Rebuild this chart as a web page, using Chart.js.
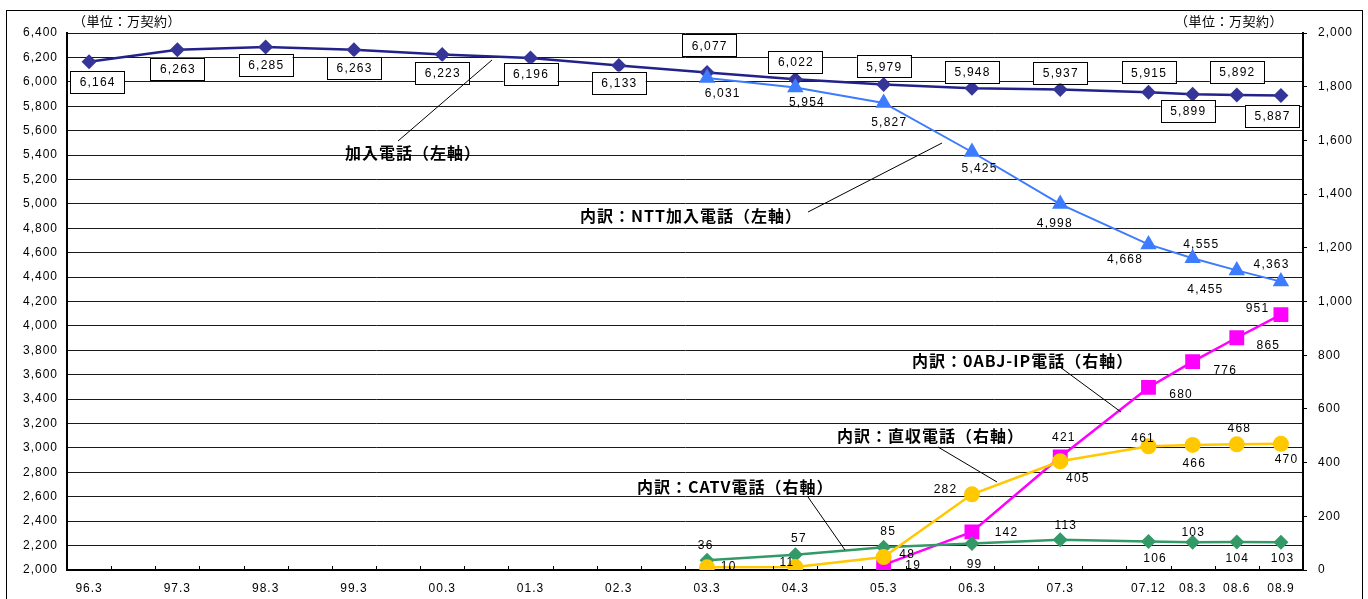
<!DOCTYPE html>
<html lang="ja">
<head>
    <meta charset="UTF-8">
    <title>加入電話等の契約数の推移</title>
    <script src="https://cdn.jsdelivr.net/npm/chart.js"></script>
    <style>
        * { margin: 0; padding: 0; box-sizing: border-box; }
        body { background: #ffffff; width: 1368px; height: 599px; overflow: hidden; }
        canvas { display: block; }
    </style>
</head>
<body>
    <canvas id="lineChart" width="1368" height="599"></canvas>

    <script>
        // Periods (fiscal year-end / quarter)
        const periods = ['96.3', '97.3', '98.3', '99.3', '00.3', '01.3', '02.3', '03.3', '04.3', '05.3', '06.3', '07.3', '07.12', '08.3', '08.6', '08.9'];
        // Axis slots: yearly points take two slots, quarterly one
        const slotLabels = ['96.3', '', '97.3', '', '98.3', '', '99.3', '', '00.3', '', '01.3', '', '02.3', '', '03.3', '', '04.3', '', '05.3', '', '06.3', '', '07.3', '', '07.12', '08.3', '08.6', '08.9'];

        // Values (万契約)
        const fixedPhone  = [6164, 6263, 6285, 6263, 6223, 6196, 6133, 6077, 6022, 5979, 5948, 5937, 5915, 5899, 5892, 5887];
        const nttPhone    = [null, null, null, null, null, null, null, 6031, 5954, 5827, 5425, 4998, 4668, 4555, 4455, 4363];
        const ipPhone     = [null, null, null, null, null, null, null, null, null, 19, 142, 421, 680, 776, 865, 951];
        const directPhone = [null, null, null, null, null, null, null, 10, 11, 48, 282, 405, 461, 466, 468, 470];
        const catvPhone   = [null, null, null, null, null, null, null, 36, 57, 85, 99, 113, 106, 103, 104, 103];

        const leftTicks  = { min: 2000, max: 6400, step: 200 };
        const rightTicks = { min: 0, max: 2000, step: 200 };

        // label offsets [dx, dy] from the point, per period
        const fixedLabelPos  = [[8, 20], [0, 19], [0, 18], [0, 18], [0, 18], [0, 16], [0, 17], [2, -27], [0, -17], [0, -18], [0, -16], [0, -17], [0, -20], [-5, 17], [0, -23], [-9, 20]];
        const nttLabelPos    = [null, null, null, null, null, null, null, [15, 15], [11, 14], [5, 19], [7, 16], [-6, 19], [-24, 14], [8, -14], [-32, 18], [-10, -18]];
        const ipLabelPos     = [null, null, null, null, null, null, null, null, null, [29, 0], [34, 0], [3, -20], [32, 6], [32, 8], [31, 7], [-24, -7]];
        const directLabelPos = [null, null, null, null, null, null, null, [21, -2], [-9, -5], [23, -3], [-27, -6], [17, 16], [-6, -9], [1, 18], [2, -17], [5, 15]];
        const catvLabelPos   = [null, null, null, null, null, null, null, [-2, -16], [3, -17], [4, -16], [2, 20], [5, -15], [6, 16], [0, -11], [0, 16], [1, 15]];

        // map per-period arrays onto axis slots
        function toSlots(values) {
            const out = slotLabels.map(() => null);
            periods.forEach((p, i) => { out[slotLabels.indexOf(p)] = values[i]; });
            return out;
        }
        function fmt(v) { return v.toLocaleString('en-US'); }

        const NUM_FONT = '12px "Liberation Sans", Arial, sans-serif';
        const JP_FONT = 'bold 16px "Noto Sans CJK JP", sans-serif';
        const tickFont = { family: '"Liberation Sans", Arial, sans-serif', size: 12 };

        // Extra drawing: frame, ticks, value labels, callouts
        const decorPlugin = {
            id: 'decor',
            beforeDraw(chart) {
                const ctx = chart.ctx;
                ctx.save();
                ctx.fillStyle = '#ffffff';
                ctx.fillRect(0, 0, chart.width, chart.height);
                ctx.strokeStyle = '#000';
                ctx.lineWidth = 1;
                ctx.strokeRect(6.5, 10.5, 1356, 620);
                ctx.restore();
                // wider glyph spacing, like the original's font
                ctx.letterSpacing = '1px';
            },
            afterDatasetsDraw(chart) {
                const ctx = chart.ctx;
                const area = chart.chartArea;
                ctx.save();

                // small upward ticks on x axis between slots
                ctx.strokeStyle = '#000';
                ctx.lineWidth = 1;
                const slotW = (area.right - area.left) / slotLabels.length;
                for (let i = 1; i < slotLabels.length; i++) {
                    const x = Math.round(area.left + i * slotW) + 0.5;
                    ctx.beginPath();
                    ctx.moveTo(x, area.bottom);
                    ctx.lineTo(x, area.bottom - 4);
                    ctx.stroke();
                }

                // value labels
                const drawLabels = (dsIndex, values, pos, boxed) => {
                    const meta = chart.getDatasetMeta(dsIndex);
                    periods.forEach((p, i) => {
                        if (values[i] == null || !pos[i]) return;
                        const el = meta.data[slotLabels.indexOf(p)];
                        const cx = el.x + pos[i][0];
                        const cy = el.y + pos[i][1];
                        const txt = fmt(values[i]);
                        if (boxed) {
                            ctx.fillStyle = '#fff';
                            ctx.fillRect(cx - 27, cy - 11, 54, 22);
                            ctx.strokeStyle = '#000';
                            ctx.lineWidth = 1;
                            ctx.strokeRect(Math.round(cx - 27) + 0.5, Math.round(cy - 11) + 0.5, 54, 22);
                        }
                        ctx.fillStyle = '#000';
                        ctx.font = NUM_FONT;
                        ctx.letterSpacing = '1.2px';
                        ctx.textAlign = 'center';
                        ctx.textBaseline = 'middle';
                        ctx.fillText(txt, cx + 0.6, cy + 1);
                    });
                };
                drawLabels(4, fixedPhone, fixedLabelPos, true);
                drawLabels(3, nttPhone, nttLabelPos, false);
                drawLabels(2, ipPhone, ipLabelPos, false);
                drawLabels(1, catvPhone, catvLabelPos, false);
                drawLabels(0, directPhone, directLabelPos, false);

                // callouts with leader lines
                const callouts = [
                    { text: '加入電話（左軸）', x: 345, y: 153, line: [398, 141, 492, 60] },
                    { text: '内訳：NTT加入電話（左軸）', x: 580, y: 216, line: [808, 212, 942, 143] },
                    { text: '内訳：0ABJ-IP電話（右軸）', x: 912, y: 361, line: [1060, 367, 1121, 412] },
                    { text: '内訳：直収電話（右軸）', x: 837, y: 436, line: [938, 447, 997, 482] },
                    { text: '内訳：CATV電話（右軸）', x: 637, y: 487, line: [808, 497, 845, 550] }
                ];
                callouts.forEach(c => {
                    ctx.strokeStyle = '#000';
                    ctx.lineWidth = 1;
                    ctx.beginPath();
                    ctx.moveTo(c.line[0], c.line[1]);
                    ctx.lineTo(c.line[2], c.line[3]);
                    ctx.stroke();
                    ctx.font = JP_FONT;
                    ctx.letterSpacing = '1px';
                    ctx.fillStyle = '#000';
                    ctx.textAlign = 'left';
                    ctx.textBaseline = 'middle';
                    ctx.fillText(c.text, c.x, c.y);
                });

                // unit notes
                ctx.font = '13px "Noto Sans CJK JP", sans-serif';
                ctx.letterSpacing = '0.5px';
                ctx.textAlign = 'left';
                ctx.textBaseline = 'middle';
                ctx.fillText('（単位：万契約）', 73, 21);
                ctx.fillText('（単位：万契約）', 1175, 21);

                ctx.restore();
            }
        };

        const lineBase = { spanGaps: true, borderWidth: 2.5, pointBorderWidth: 0, pointHoverRadius: 0 };

        new Chart(document.getElementById('lineChart'), {
            type: 'line',
            data: {
                labels: slotLabels,
                datasets: [
                    { ...lineBase, label: '内訳:直収電話(右軸)', data: toSlots(directPhone), yAxisID: 'y2',
                      borderColor: '#FFC800', backgroundColor: '#FFC800', pointStyle: 'circle', pointRadius: 8 },
                    { ...lineBase, label: '内訳:CATV電話(右軸)', data: toSlots(catvPhone), yAxisID: 'y2',
                      borderColor: '#339966', backgroundColor: '#339966', pointStyle: 'rectRot', pointRadius: 7.5 },
                    { ...lineBase, label: '内訳:0ABJ-IP電話(右軸)', data: toSlots(ipPhone), yAxisID: 'y2',
                      borderColor: '#FF00FF', backgroundColor: '#FF00FF', pointStyle: 'rect', pointRadius: 10.5 },
                    { ...lineBase, label: '内訳:NTT加入電話(左軸)', data: toSlots(nttPhone), yAxisID: 'y', borderWidth: 2,
                      borderColor: '#3D7BFF', backgroundColor: '#3D7BFF', pointStyle: 'triangle', pointRadius: 9.5 },
                    { ...lineBase, label: '加入電話(左軸)', data: toSlots(fixedPhone), yAxisID: 'y',
                      borderColor: '#22228A', backgroundColor: '#353599', pointStyle: 'rectRot', pointRadius: 7.5 }
                ]
            },
            options: {
                responsive: false,
                animation: false,
                events: [],
                layout: { padding: { top: 33, left: 0, right: 0, bottom: 0 } },
                plugins: {
                    legend: { display: false },
                    tooltip: { enabled: false },
                    title: { display: false }
                },
                scales: {
                    x: {
                        offset: true,
                        afterFit: s => { s.height = 29; },
                        grid: { display: false, drawTicks: false },
                        border: { display: true, color: '#000', width: 2 },
                        ticks: { autoSkip: false, maxRotation: 0, padding: 11, color: '#000', font: tickFont }
                    },
                    y: {
                        position: 'left',
                        min: leftTicks.min, max: leftTicks.max,
                        afterFit: s => { s.width = 67; },
                        grid: { color: '#1a1a1a', lineWidth: 1, drawTicks: false },
                        border: { display: true, color: '#000', width: 2 },
                        ticks: { stepSize: leftTicks.step, padding: 9, color: '#000', font: tickFont, callback: v => fmt(v) }
                    },
                    y2: {
                        position: 'right',
                        min: rightTicks.min, max: rightTicks.max,
                        afterFit: s => { s.width = 65; },
                        grid: { drawOnChartArea: false, drawTicks: true, tickLength: 4, color: '#000' },
                        border: { display: true, color: '#000', width: 2 },
                        ticks: { stepSize: rightTicks.step, padding: 11, color: '#000', font: tickFont, callback: v => fmt(v) }
                    }
                }
            },
            plugins: [decorPlugin]
        });
    </script>
</body>
</html>
